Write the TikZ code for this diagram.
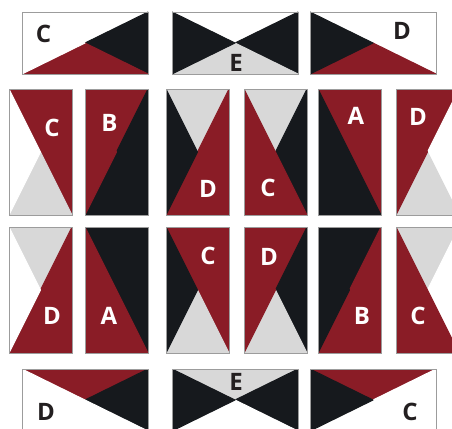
\documentclass[tikz,border=0pt]{standalone}
\usepackage{fontspec}
\setmainfont{Open Sans}
\definecolor{qred}{HTML}{8A1C26}
\definecolor{qblack}{HTML}{16191D}
\definecolor{qgray}{HTML}{D8D8D8}
\definecolor{qedge}{HTML}{9C9C9C}
\definecolor{qink}{HTML}{231F20}
\newcommand\qblock[8]{% x y w h top right bottom left
  \begin{scope}[shift={(#1,#2)}]
    \begin{scope}
      \clip (0,0) rectangle (#3,#4);
      \fill[#5,draw=#5,line width=1pt,line join=round] (0,0) -- (#3,0) -- ({#3/2},{#4/2}) -- cycle;
      \fill[#6,draw=#6,line width=1pt,line join=round] (#3,0) -- (#3,#4) -- ({#3/2},{#4/2}) -- cycle;
      \fill[#7,draw=#7,line width=1pt,line join=round] (0,#4) -- (#3,#4) -- ({#3/2},{#4/2}) -- cycle;
      \fill[#8,draw=#8,line width=1pt,line join=round] (0,0) -- (0,#4) -- ({#3/2},{#4/2}) -- cycle;
    \end{scope}
    \draw[qedge,line width=0.6pt] (0,0) rectangle (#3,#4);
  \end{scope}}
\tikzset{
  lab/.style={inner sep=0pt,font=\fontsize{24}{24}\bfseries\selectfont},
  labw/.style={lab,text=white},
  labd/.style={lab,text=qink}
}
\begin{document}
\begin{tikzpicture}[x=1pt,y=-1pt]
\useasboundingbox (0,0) rectangle (452,428);
\clip (0,0) rectangle (452,428);
% top row
\qblock{22}{12}{126}{62}{white}{qblack}{qred}{white}
\qblock{172}{12}{126}{62}{white}{qblack}{qgray}{qblack}
\qblock{310}{12}{126}{62}{white}{white}{qred}{qblack}
% row 2
\qblock{9}{89}{63}{126}{qred}{qred}{qgray}{white}
\qblock{85}{89}{63}{126}{qred}{qblack}{qblack}{qred}
\qblock{166}{89}{63}{126}{qgray}{qred}{qred}{qblack}
\qblock{244}{89}{63}{126}{qgray}{qblack}{qred}{qred}
\qblock{318}{89}{63}{126}{qred}{qred}{qblack}{qblack}
\qblock{396}{89}{63}{126}{qred}{white}{qgray}{qred}
% row 3
\qblock{9}{227}{63}{126}{qgray}{qred}{qred}{white}
\qblock{85}{227}{63}{126}{qblack}{qblack}{qred}{qred}
\qblock{166}{227}{63}{126}{qred}{qred}{qgray}{qblack}
\qblock{244}{227}{63}{126}{qred}{qblack}{qgray}{qred}
\qblock{318}{227}{63}{126}{qblack}{qred}{qred}{qblack}
\qblock{396}{227}{63}{126}{qgray}{white}{qred}{qred}
% bottom row
\qblock{22}{369}{126}{62}{qred}{qblack}{white}{white}
\qblock{172}{369}{126}{62}{qgray}{qblack}{white}{qblack}
\qblock{310}{369}{126}{62}{qred}{white}{white}{qblack}
% labels
\node[labd] (t1) at (43.5,33.5) {C};
\node[labd] (t2) at (236,62.5) {E};
\node[labd] (t3) at (402,31) {D};
\node[labw] (a1) at (52,128) {C};
\node[labw] (a2) at (109.5,123) {B};
\node[labw] (a3) at (208,189) {D};
\node[labw] (a4) at (268,188) {C};
\node[labw] (a5) at (356,116) {A};
\node[labw] (a6) at (418,117) {D};
\node[labw] (b1) at (52,316) {D};
\node[labw] (b2) at (109,316) {A};
\node[labw] (b3) at (208,256) {C};
\node[labw] (b4) at (269,257) {D};
\node[labw] (b5) at (362,316) {B};
\node[labw] (b6) at (418,316) {C};
\node[labd] (u1) at (46,412) {D};
\node[labd] (u2) at (236,382) {E};
\node[labd] (u3) at (410,412) {C};
\end{tikzpicture}
\end{document}
